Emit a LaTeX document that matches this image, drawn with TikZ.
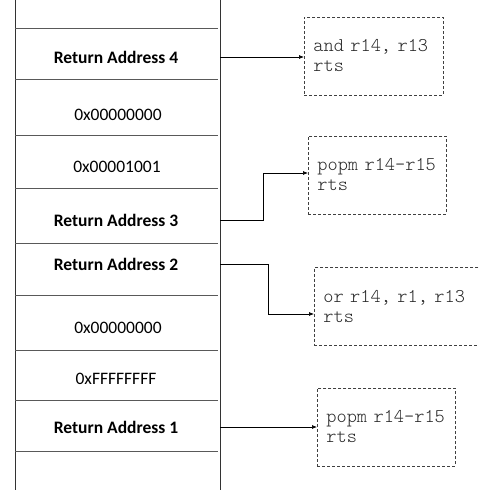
\documentclass[tikz,border=0pt]{standalone}
\usepackage{fontspec}
\setmainfont{Carlito}
\newfontfamily\codefont{Latin Modern Mono Light}
\usetikzlibrary{arrows.meta}
\tikzset{
  cell/.style={minimum width=205pt, inner sep=0pt, font=\fontsize{17.5}{20}\selectfont},
  rcell/.style={cell, font=\fontsize{17.5}{20}\selectfont\bfseries},
  codebox/.style={draw=black!75, dashed, dash pattern=on 3pt off 2pt, line width=0.8pt,
    minimum height=78pt, inner xsep=9pt, inner ysep=0pt, text width=120pt, align=left,
    anchor=west, text=black!85, font=\codefont\fontsize{19.4}{20}\selectfont},
  rule/.style={draw=black!65, line width=0.9pt},
  wall/.style={draw=black!80, line width=0.9pt},
  link/.style={draw=black, line width=0.7pt, -{Latex[length=5pt,width=4pt]}}
}
\begin{document}
\begin{tikzpicture}[x=1pt, y=-1pt]
  \useasboundingbox (0,0) rectangle (479,493);

  % stack walls and slot separators
  \draw[wall] (15,0) -- (15,490);
  \draw[wall] (220,0) -- (220,490);
  \foreach \y in {28,79,135,188,243,295,350,400,451}
    \draw[rule] (15,\y) -- (218,\y);

  % stack contents
  \node[rcell] (ra4) at (116,57) {Return Address 4};
  \node[cell]  (z1)  at (118,115) {0x00000000};
  \node[cell]  (v1)  at (117,167) {0x00001001};
  \node[rcell] (ra3) at (116,220) {Return Address 3};
  \node[rcell] (ra2) at (116,264) {Return Address 2};
  \node[cell]  (z2)  at (118,328) {0x00000000};
  \node[cell]  (ff)  at (116,379) {0xFFFFFFFF};
  \node[rcell] (ra1) at (116,427) {Return Address 1};

  % gadgets
  \node[codebox, text width=121pt] (g4) at (304,56) {and r14, r13\\rts};
  \node[codebox] (g3) at (308,175) {popm r14-r15\\rts};
  \node[codebox, text width=160pt] (g2) at (314,306.5) {or r14, r1, r13\\rts};
  \node[codebox] (g1) at (317,427) {popm r14-r15\\rts};

  % return targets
  \draw[link] (220,57) -- (g4.west |- 220,57);
  \draw[link] (220,220) -- (263,220) |- ([yshift=2pt]g3.west);
  \draw[link] (220,264) -- (268,264) |- ([yshift=-7.5pt]g2.west);
  \draw[link] (220,427) -- (g1.west);
\end{tikzpicture}
\end{document}
